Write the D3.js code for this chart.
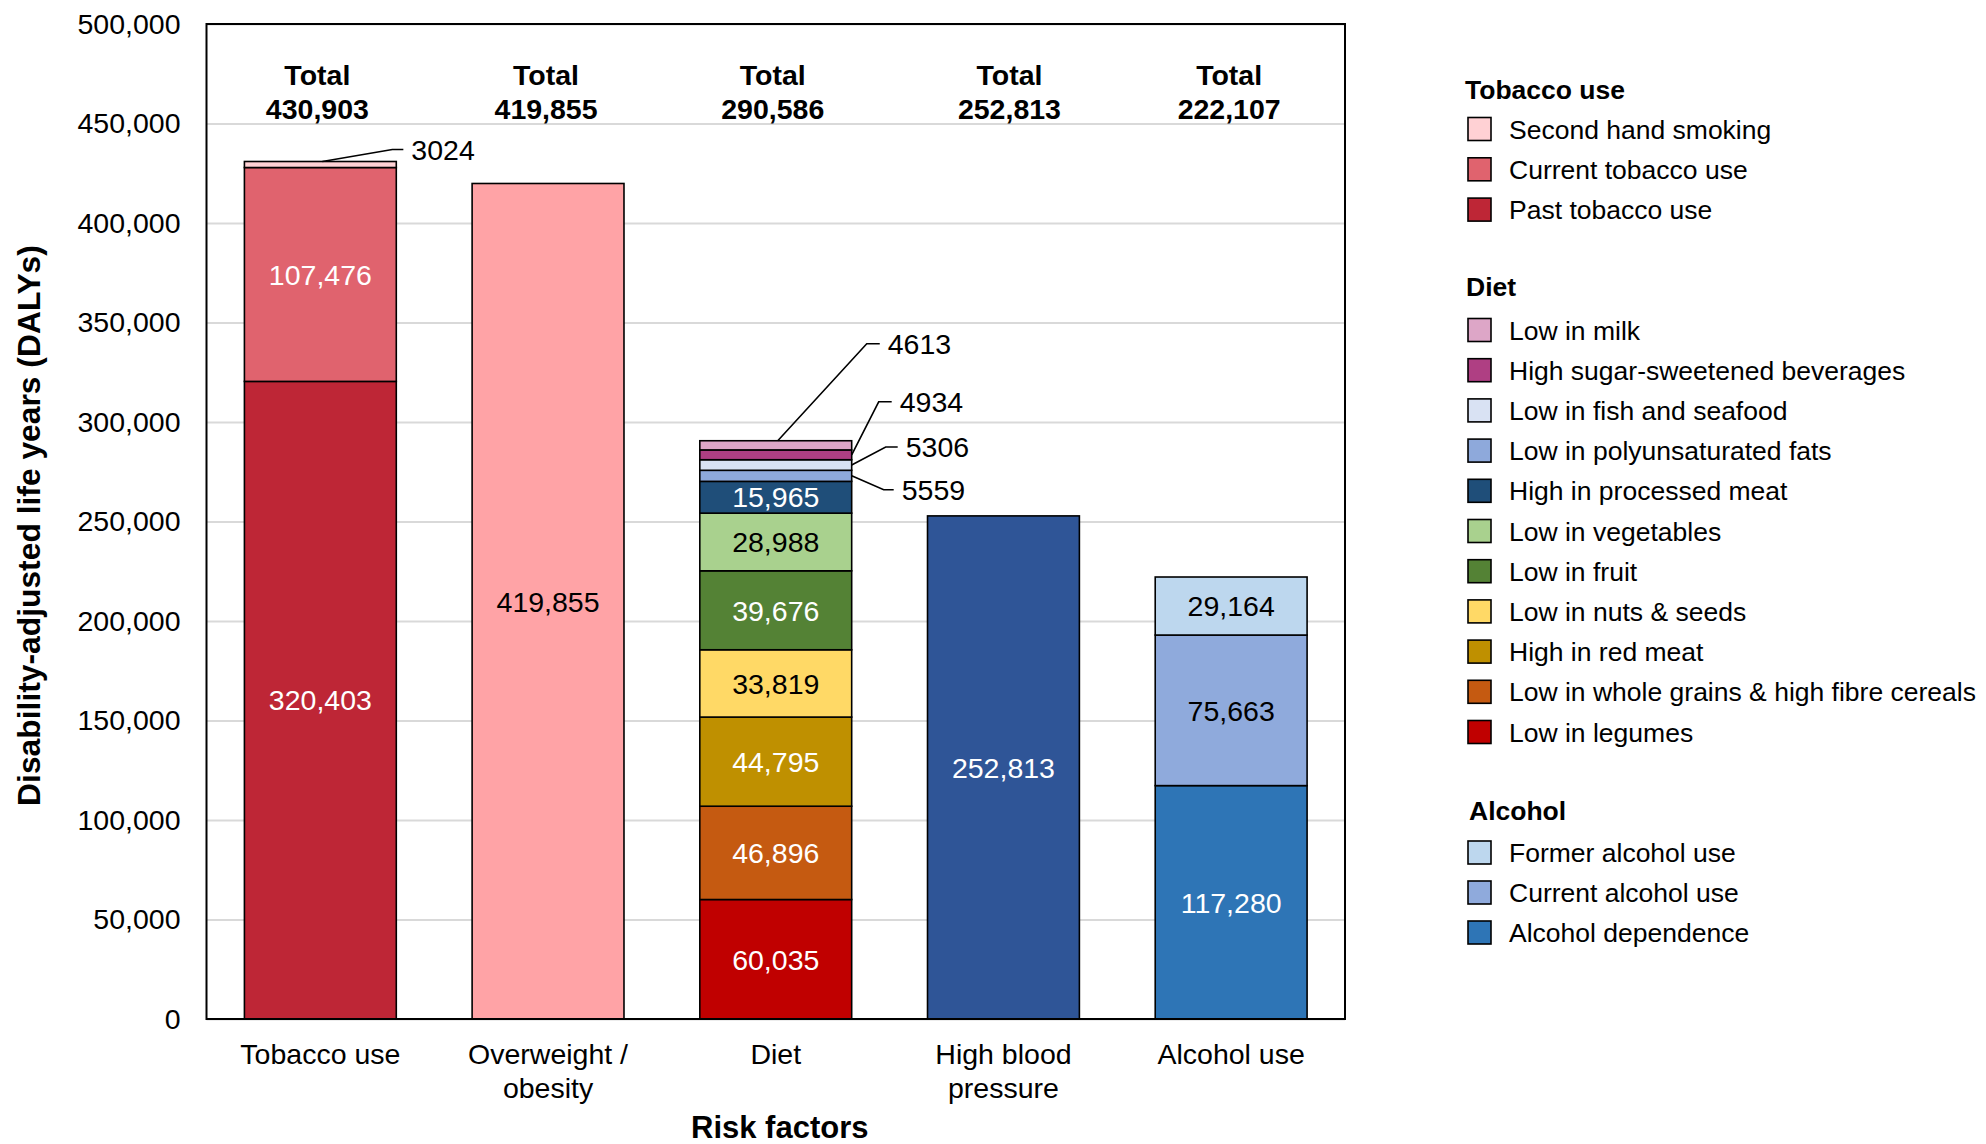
<!DOCTYPE html>
<html>
<head>
<meta charset="utf-8">
<script src="https://cdn.jsdelivr.net/npm/d3@7"></script>
<style>
  html, body { margin: 0; padding: 0; background: #ffffff; }
  svg { display: block; font-family: "Liberation Sans", Arial, sans-serif; }
</style>
</head>
<body>
<svg id="chart" width="1986" height="1144"></svg>
<script>
// ---- Data -------------------------------------------------------------
const categories = ["Tobacco use", "Overweight / obesity", "Diet", "High blood pressure", "Alcohol use"];
const categoryLabelLines = [["Tobacco use"], ["Overweight /", "obesity"], ["Diet"], ["High blood", "pressure"], ["Alcohol use"]];

// Segments listed bottom to top within each bar
const tobaccoSegments = ["Past tobacco use", "Current tobacco use", "Second hand smoking"];
const tobaccoValues = [320403, 107476, 3024];

const overweightSegments = ["Overweight / obesity"];
const overweightValues = [419855];

const dietSegments = ["Low in legumes", "Low in whole grains & high fibre cereals", "High in red meat",
  "Low in nuts & seeds", "Low in fruit", "Low in vegetables", "High in processed meat",
  "Low in polyunsaturated fats", "Low in fish and seafood", "High sugar-sweetened beverages", "Low in milk"];
const dietValues = [60035, 46896, 44795, 33819, 39676, 28988, 15965, 5559, 5306, 4934, 4613];

const bloodPressureSegments = ["High blood pressure"];
const bloodPressureValues = [252813];

const alcoholSegments = ["Alcohol dependence", "Current alcohol use", "Former alcohol use"];
const alcoholValues = [117280, 75663, 29164];

const yTicks = [0, 50000, 100000, 150000, 200000, 250000, 300000, 350000, 400000, 450000, 500000];

// Legend groups (top to bottom)
const legendTobacco = ["Second hand smoking", "Current tobacco use", "Past tobacco use"];
const legendDiet = ["Low in milk", "High sugar-sweetened beverages", "Low in fish and seafood",
  "Low in polyunsaturated fats", "High in processed meat", "Low in vegetables", "Low in fruit",
  "Low in nuts & seeds", "High in red meat", "Low in whole grains & high fibre cereals", "Low in legumes"];
const legendAlcohol = ["Former alcohol use", "Current alcohol use", "Alcohol dependence"];

// ---- Styling ------------------------------------------------------------
const colors = {
  "Second hand smoking": "#FFD1D4",
  "Current tobacco use": "#E0636E",
  "Past tobacco use": "#BE2636",
  "Overweight / obesity": "#FFA3A6",
  "Low in milk": "#DDA6C7",
  "High sugar-sweetened beverages": "#AF3F83",
  "Low in fish and seafood": "#D9E2F3",
  "Low in polyunsaturated fats": "#8EA9DB",
  "High in processed meat": "#1F4E79",
  "Low in vegetables": "#A9D18E",
  "Low in fruit": "#548235",
  "Low in nuts & seeds": "#FFD966",
  "High in red meat": "#BF9000",
  "Low in whole grains & high fibre cereals": "#C55A11",
  "Low in legumes": "#C00000",
  "High blood pressure": "#2F5597",
  "Former alcohol use": "#BDD7EE",
  "Current alcohol use": "#8FAADC",
  "Alcohol dependence": "#2E75B6"
};
// Segments whose in-bar value is printed in dark text
const darkText = new Set(["Overweight / obesity", "Low in nuts & seeds", "Low in vegetables",
  "Current alcohol use", "Former alcohol use"]);

// Small segments labelled with leader lines: anchor side, elbow offset, tail length
const callouts = {
  "Second hand smoking":            { side: "top",   dx: 70, dy: -12, tail: 11 },
  "Low in milk":                    { side: "top",   dx: 89, dy: -97, tail: 13 },
  "High sugar-sweetened beverages": { side: "right", dx: 27, dy: -53, tail: 13 },
  "Low in fish and seafood":        { side: "right", dx: 34, dy: -18, tail: 12 },
  "Low in polyunsaturated fats":    { side: "right", dx: 32, dy: 14,  tail: 10 }
};

// Horizontal nudge of each "Total" label relative to its bar centre
const totalNudge = [-3, -2, -3, 6, -2];

const font = "\"Liberation Sans\", Arial, sans-serif";
const fmt = d3.format(",");

// ---- Layout -------------------------------------------------------------
const svg = d3.select("#chart");
const plot = { left: 206.5, right: 1345, top: 24, bottom: 1019 };

const x = d3.scaleBand()
  .domain(categories)
  .range([plot.left, plot.right])
  .paddingInner(0.333)
  .paddingOuter(0.1665);

const y = d3.scaleLinear()
  .domain([0, 500000])
  .range([plot.bottom, plot.top]);

const barData = [
  { cat: categories[0], names: tobaccoSegments, values: tobaccoValues },
  { cat: categories[1], names: overweightSegments, values: overweightValues },
  { cat: categories[2], names: dietSegments, values: dietValues },
  { cat: categories[3], names: bloodPressureSegments, values: bloodPressureValues },
  { cat: categories[4], names: alcoholSegments, values: alcoholValues }
];

const segments = [];
barData.forEach(b => {
  let acc = 0;
  b.names.forEach((n, i) => {
    segments.push({ cat: b.cat, name: n, value: b.values[i], y0: acc, y1: acc + b.values[i] });
    acc += b.values[i];
  });
  b.total = acc;
});

// Gridlines
svg.append("g")
  .attr("transform", `translate(${plot.left},0)`)
  .call(d3.axisLeft(y).tickValues(yTicks).tickSize(-(plot.right - plot.left)).tickFormat(""))
  .call(g => g.select(".domain").remove())
  .call(g => g.selectAll("line").attr("stroke", "#D9D9D9").attr("stroke-width", 2));

// Y axis labels
svg.append("g")
  .attr("transform", `translate(${plot.left},0)`)
  .call(d3.axisLeft(y).tickValues(yTicks).tickSize(0).tickPadding(26).tickFormat(fmt))
  .call(g => g.select(".domain").remove())
  .call(g => g.selectAll("text")
    .attr("font-family", font).attr("font-size", 28.5).attr("fill", "#000"));

// Bars
svg.append("g").selectAll("rect")
  .data(segments)
  .join("rect")
  .attr("x", d => x(d.cat))
  .attr("width", x.bandwidth())
  .attr("y", d => y(d.y1))
  .attr("height", d => y(d.y0) - y(d.y1))
  .attr("fill", d => colors[d.name])
  .attr("stroke", "#000")
  .attr("stroke-width", 1.6);

// In-bar value labels
svg.append("g").selectAll("text")
  .data(segments.filter(d => !callouts[d.name]))
  .join("text")
  .attr("x", d => x(d.cat) + x.bandwidth() / 2)
  .attr("y", d => y((d.y0 + d.y1) / 2))
  .attr("dy", "0.36em")
  .attr("text-anchor", "middle")
  .attr("font-family", font)
  .attr("font-size", 28.5)
  .attr("fill", d => darkText.has(d.name) ? "#000" : "#fff")
  .text(d => fmt(d.value));

// Leader-line labels for the thin segments
const co = svg.append("g");
segments.filter(d => callouts[d.name]).forEach(d => {
  const c = callouts[d.name];
  let ax, ay;
  if (c.side === "top") {
    ax = x(d.cat) + x.bandwidth() / 2 + 2;
    ay = y(d.y1);
  } else {
    ax = x(d.cat) + x.bandwidth();
    ay = y((d.y0 + d.y1) / 2);
  }
  const ex = ax + c.dx, ey = ay + c.dy;
  co.append("polyline")
    .attr("points", `${ax},${ay} ${ex},${ey} ${ex + c.tail},${ey}`)
    .attr("fill", "none").attr("stroke", "#000").attr("stroke-width", 1.6);
  co.append("text")
    .attr("x", ex + c.tail + 8).attr("y", ey).attr("dy", "0.36em")
    .attr("font-family", font).attr("font-size", 28.5).attr("fill", "#000")
    .text(d.value);
});

// Totals above the bars
const tot = svg.append("g").selectAll("text")
  .data(barData)
  .join("text")
  .attr("text-anchor", "middle")
  .attr("font-family", font)
  .attr("font-size", 28.5)
  .attr("font-weight", "bold")
  .attr("fill", "#000");
tot.append("tspan").attr("x", (d, i) => x(d.cat) + x.bandwidth() / 2 + totalNudge[i]).attr("y", 85).text("Total");
tot.append("tspan").attr("x", (d, i) => x(d.cat) + x.bandwidth() / 2 + totalNudge[i]).attr("y", 119).text(d => fmt(d.total));

// Plot frame
svg.append("rect")
  .attr("x", plot.left).attr("y", plot.top)
  .attr("width", plot.right - plot.left).attr("height", plot.bottom - plot.top)
  .attr("fill", "none").attr("stroke", "#000").attr("stroke-width", 2);

// X axis category labels
const xl = svg.append("g").selectAll("text")
  .data(categories)
  .join("text")
  .attr("text-anchor", "middle")
  .attr("font-family", font)
  .attr("font-size", 28.5)
  .attr("fill", "#000");
xl.each(function(d, i) {
  categoryLabelLines[i].forEach((line, j) => {
    d3.select(this).append("tspan")
      .attr("x", x(d) + x.bandwidth() / 2)
      .attr("y", 1064 + j * 34)
      .text(line);
  });
});

// Axis titles
svg.append("text")
  .attr("x", (plot.left + plot.right) / 2 + 4).attr("y", 1138)
  .attr("text-anchor", "middle")
  .attr("font-family", font).attr("font-size", 31).attr("font-weight", "bold")
  .text("Risk factors");

svg.append("text")
  .attr("transform", `translate(40,${(plot.top + plot.bottom) / 2 + 4}) rotate(-90)`)
  .attr("text-anchor", "middle")
  .attr("font-family", font).attr("font-size", 31.8).attr("font-weight", "bold")
  .text("Disability-adjusted life years (DALYs)");

// Legend
const legend = svg.append("g");
function legendGroup(title, titleX, titleY, items, firstY, step) {
  legend.append("text")
    .attr("x", titleX).attr("y", titleY).attr("dy", "0.36em")
    .attr("font-family", font).attr("font-size", 26.5).attr("font-weight", "bold")
    .text(title);
  items.forEach((name, i) => {
    const cy = firstY + i * step;
    legend.append("rect")
      .attr("x", 1468).attr("y", cy - 11.5).attr("width", 23).attr("height", 23)
      .attr("fill", colors[name]).attr("stroke", "#000").attr("stroke-width", 1.6);
    legend.append("text")
      .attr("x", 1509).attr("y", cy).attr("dy", "0.36em")
      .attr("font-family", font).attr("font-size", 26.5)
      .text(name);
  });
}
legendGroup("Tobacco use", 1465, 89, legendTobacco, 129, 40.3);
legendGroup("Diet", 1466, 286.5, legendDiet, 330, 40.2);
legendGroup("Alcohol", 1469, 810, legendAlcohol, 852.5, 40);
</script>
</body>
</html>
